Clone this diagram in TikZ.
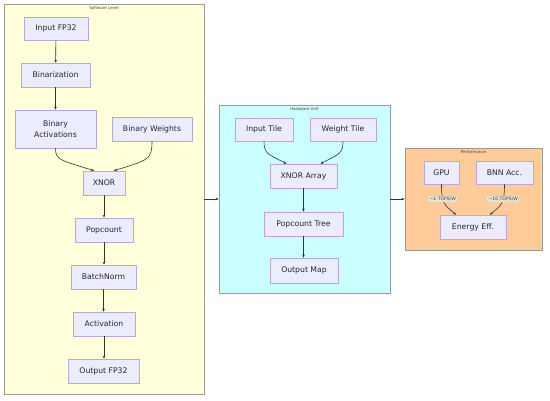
\documentclass[tikz,border=0pt]{standalone}
\usepackage{fontspec}
\setmainfont{DejaVu Sans}
\usetikzlibrary{arrows.meta}
\definecolor{nodefill}{HTML}{ECECFF}
\definecolor{nodeline}{HTML}{B8A6E8}
\definecolor{swfill}{HTML}{FFFFD9}
\definecolor{hwfill}{HTML}{CCFFFF}
\definecolor{pffill}{HTML}{FFCC99}
\definecolor{clline}{HTML}{9A9A9A}
\definecolor{edgecol}{HTML}{333333}
\definecolor{lblfill}{HTML}{E3E1D8}
\tikzset{
  box/.style={draw=nodeline, fill=nodefill, line width=0.6pt, inner sep=0pt,
    font=\fontsize{7.7}{9.5}\selectfont, text=black!85, align=center},
  cluster/.style={draw=clline, line width=0.8pt, inner sep=0pt},
  ctitle/.style={font=\fontsize{4}{5}\selectfont, text=black!75, inner sep=0pt},
  flow/.style={draw=edgecol, line width=0.6pt, -{Stealth[length=3pt,width=2.6pt]}},
  elabel/.style={fill=lblfill, font=\fontsize{4.6}{5.5}\selectfont, text=black!75, inner xsep=1.2pt, inner ysep=1.2pt}
}
\begin{document}
\begin{tikzpicture}[x=1pt,y=-1pt]
\useasboundingbox (0,0) rectangle (550,400);
\fill[white] (0,0) rectangle (550,400);
% clusters
\node[cluster, fill=swfill, minimum width=200pt, minimum height=390pt] (sw) at (104,199) {};
\node[cluster, fill=hwfill, minimum width=171pt, minimum height=188pt] (hw) at (304.5,199) {};
\node[cluster, fill=pffill, minimum width=137pt, minimum height=102pt] (pf) at (473.5,199) {};
\node[ctitle] (swt) at (104,8.5) {Software Level};
\node[ctitle] (hwt) at (304.5,109.5) {Hardware Unit};
\node[ctitle] (pft) at (473.5,152.5) {Performance};
% software nodes
\node[box, minimum width=64pt, minimum height=23pt] (inp) at (56,28.5) {Input FP32};
\node[box, minimum width=69pt, minimum height=24pt] (bin) at (55.5,75) {Binarization};
\node[box, minimum width=81pt, minimum height=38pt] (bact) at (55.5,129) {Binary\\[1pt]Activations};
\node[box, minimum width=80pt, minimum height=24pt] (bw) at (152,129) {Binary Weights};
\node[box, minimum width=42pt, minimum height=24pt] (xnor) at (104,183) {XNOR};
\node[box, minimum width=58pt, minimum height=24pt] (pop) at (104,230) {Popcount};
\node[box, minimum width=65pt, minimum height=24pt] (bn) at (103.5,277) {BatchNorm};
\node[box, minimum width=62pt, minimum height=24pt] (act) at (104,324) {Activation};
\node[box, minimum width=71pt, minimum height=24pt] (out) at (103.5,371) {Output FP32};
% hardware nodes
\node[box, minimum width=58pt, minimum height=23pt] (itile) at (264,129.5) {Input Tile};
\node[box, minimum width=66pt, minimum height=23pt] (wtile) at (343,129.5) {Weight Tile};
\node[box, minimum width=67pt, minimum height=24pt] (xarr) at (303.5,176) {XNOR Array};
\node[box, minimum width=79pt, minimum height=24pt] (ptree) at (303.5,224) {Popcount Tree};
\node[box, minimum width=68pt, minimum height=25pt] (omap) at (304,270.5) {Output Map};
% performance nodes
\node[box, minimum width=35pt, minimum height=23pt] (gpu) at (441.5,172.5) {GPU};
\node[box, minimum width=57pt, minimum height=23pt] (bnn) at (504.5,172.5) {BNN Acc.};
\node[box, minimum width=66pt, minimum height=24pt] (ee) at (473,227) {Energy Eff.};
% software edges
\draw[flow] (inp) -- (bin);
\draw[flow] (bin.south) -- (bin.south |- bact.north);
\draw[flow] (bact.south) .. controls (55.5,160) and (60,160) .. ([xshift=-10pt]xnor.north);
\draw[flow] (bw.south) .. controls (152,160) and (148,160) .. ([xshift=10pt]xnor.north);
\draw[flow] (xnor) -- (pop);
\draw[flow] (pop.south) -- (pop.south |- bn.north);
\draw[flow] (bn.south) -- (bn.south |- act.north);
\draw[flow] (act.south) -- (act.south |- out.north);
% hardware edges
\draw[flow] (itile.south) .. controls (264,154) and (268,154) .. ([xshift=-17pt]xarr.north);
\draw[flow] (wtile.south) .. controls (343,154) and (339,154) .. ([xshift=17pt]xarr.north);
\draw[flow] (xarr) -- (ptree);
\draw[flow] (ptree.south) -- (ptree.south |- omap.north);
% performance edges
\draw[flow] (gpu.south) .. controls (441.5,205) and (445,205) .. ([xshift=-17pt]ee.north) node[pos=0.33, elabel] {\textasciitilde1 TOPS/W};
\draw[flow] (bnn.south) .. controls (504.5,205) and (501,205) .. ([xshift=17pt]ee.north) node[pos=0.33, elabel] {\textasciitilde10 TOPS/W};
% cluster edges
\draw[flow] (sw.east) -- (hw.west);
\draw[flow] (hw.east) -- (pf.west);
\end{tikzpicture}
\end{document}
